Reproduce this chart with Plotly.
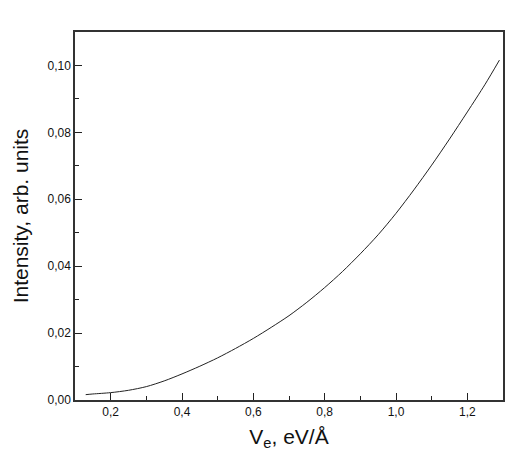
import plotly.graph_objects as go

# Curve (field strength vs. intensity)
field_ev_per_A = [0.13, 0.15, 0.20, 0.25, 0.30, 0.35, 0.40, 0.45, 0.50, 0.55,
                  0.60, 0.65, 0.70, 0.75, 0.80, 0.85, 0.90, 0.95, 1.00, 1.05,
                  1.10, 1.15, 1.20, 1.25, 1.29]
intensity = [0.0016, 0.0018, 0.0022, 0.0029, 0.0040, 0.0057, 0.0078, 0.0101,
             0.0126, 0.0154, 0.0184, 0.0217, 0.0252, 0.0292, 0.0336, 0.0384,
             0.0437, 0.0494, 0.0558, 0.0628, 0.0702, 0.0780, 0.0861, 0.0944,
             0.1016]

x_title = "V<sub>e</sub>, eV/Å"
y_title = "Intensity, arb. units"

FONT = "Liberation Sans, Arial, sans-serif"

fig = go.Figure()
fig.add_trace(go.Scatter(
    x=field_ev_per_A,
    y=intensity,
    mode="lines",
    line=dict(color="#222222", width=1, shape="spline", smoothing=0.8),
    showlegend=False,
))

axis_common = dict(
    showgrid=False,
    zeroline=False,
    showline=True,
    linecolor="#333333",
    linewidth=1.5,
    mirror=True,
    ticks="inside",
    ticklen=7,
    tickwidth=1,
    tickcolor="#222222",
    tickfont=dict(family=FONT, size=12, color="#111111"),
)

fig.update_xaxes(
    **axis_common,
    range=[0.1, 1.3],
    tick0=0.2, dtick=0.2,
    tickformat=".1f",
    minor=dict(ticks="inside", dtick=0.1, tick0=0.1, ticklen=4, tickcolor="#222222"),
    title=dict(text=x_title, font=dict(family=FONT, size=21, color="#111111"), standoff=11),
)
fig.update_yaxes(
    **axis_common,
    range=[0, 0.11],
    tick0=0, dtick=0.02,
    tickformat=".2f",
    minor=dict(ticks="inside", dtick=0.01, tick0=0, ticklen=4, tickcolor="#222222"),
    title=dict(text=y_title, font=dict(family=FONT, size=21, color="#111111"), standoff=13),
)

# page body adds an 8px offset, so the figure is sized to fit the window
fig.update_layout(
    width=523,
    height=455,
    margin=dict(l=62, r=28, t=24, b=63),
    paper_bgcolor="white",
    plot_bgcolor="white",
    separators=", ",
)

fig.write_html("out.html")
